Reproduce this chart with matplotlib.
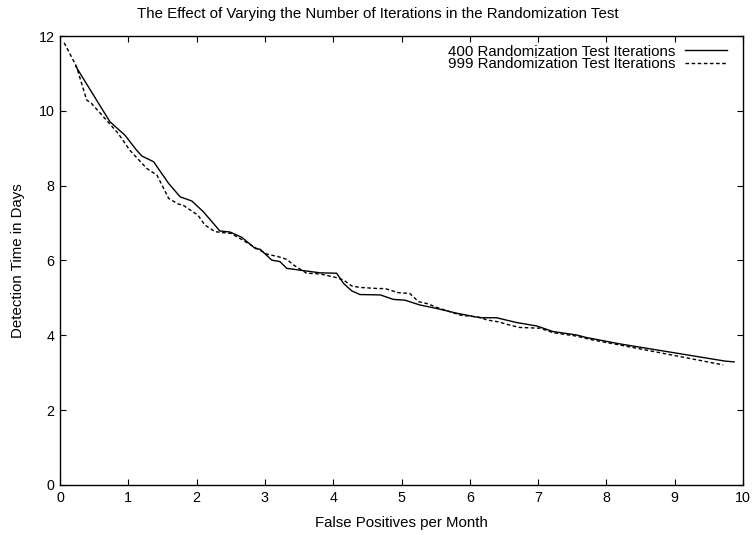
import numpy as np
import matplotlib as mpl
mpl.use('Agg')
import matplotlib.pyplot as plt

# curves (false positives per month -> detection time in days)
fp400 = [0.23, 0.73, 0.95, 1.12, 1.20, 1.37, 1.59, 1.76, 1.93, 2.10, 2.34, 2.49, 2.66, 2.86,
         2.93, 3.10, 3.22, 3.32, 3.56, 3.81, 4.05, 4.15, 4.27, 4.39, 4.69, 4.88, 5.05, 5.27,
         5.51, 5.81, 6.15, 6.39, 6.69, 6.98, 7.22, 7.56, 7.71, 8.20, 9.74, 9.87]
dt400 = [11.19, 9.71, 9.35, 8.95, 8.79, 8.64, 8.06, 7.70, 7.59, 7.30, 6.79, 6.76, 6.62, 6.32,
         6.30, 6.01, 5.97, 5.79, 5.73, 5.67, 5.66, 5.39, 5.19, 5.09, 5.08, 4.96, 4.94, 4.81,
         4.72, 4.59, 4.47, 4.47, 4.34, 4.25, 4.10, 4.01, 3.94, 3.77, 3.31, 3.29]

fp999 = [0.06, 0.24, 0.39, 0.46, 0.68, 0.85, 1.02, 1.27, 1.42, 1.59, 1.73, 1.80, 2.02, 2.12,
         2.27, 2.51, 2.66, 2.88, 3.03, 3.20, 3.32, 3.42, 3.61, 3.81, 4.03, 4.15, 4.27, 4.39,
         4.66, 4.76, 4.95, 5.12, 5.25, 5.39, 5.51, 5.86, 6.15, 6.25, 6.42, 6.59, 6.73, 7.03,
         7.22, 7.56, 7.76, 8.20, 9.71]
dt999 = [11.82, 11.19, 10.29, 10.20, 9.75, 9.40, 8.95, 8.46, 8.28, 7.66, 7.51, 7.48, 7.21, 6.95,
         6.77, 6.72, 6.56, 6.32, 6.17, 6.10, 6.03, 5.88, 5.66, 5.64, 5.55, 5.48, 5.32, 5.28,
         5.25, 5.25, 5.14, 5.12, 4.90, 4.84, 4.75, 4.54, 4.48, 4.41, 4.36, 4.27, 4.21, 4.19,
         4.07, 3.98, 3.89, 3.74, 3.21]

xticks = list(range(0, 11))
yticks = list(range(0, 13, 2))

plt.rcParams['font.family'] = ['Liberation Sans', 'DejaVu Sans']
plt.rcParams['font.size'] = 10.5


def main():
    fig = plt.figure(figsize=(7.56, 5.35), dpi=100)
    axs = fig.add_axes([0.0794, 0.0935, 0.9034, 0.8392])

    axs.plot(fp400, dt400, '-', color='black', lw=1.0, label='400 Randomization Test Iterations')
    ln, = axs.plot(fp999, dt999, '--', color='black', lw=1.0, label='999 Randomization Test Iterations')
    ln.set_dashes((2.6, 1.8))

    axs.set_xlim(0, 10)
    axs.set_ylim(0, 12)
    axs.set_xticks(xticks)
    axs.set_yticks(yticks)
    axs.tick_params(direction='in', length=4.5, width=0.8, top=True, right=True, pad=4,
                    labelsize=10.3)
    for sp in axs.spines.values():
        sp.set_linewidth(1.0)

    # gnuplot puts the title in the middle of the whole canvas
    fig.text(0.5, 1 - 14.0/535, 'The Effect of Varying the Number of Iterations in the Randomization Test',
             ha='center', va='center', fontsize=10.8)
    axs.set_xlabel('False Positives per Month', labelpad=8, fontsize=10.8)
    axs.set_ylabel('Detection Time in Days', labelpad=10, fontsize=10.8)

    axs.legend(loc='upper right', bbox_to_anchor=(0.9766, 0.981), frameon=False, markerfirst=False,
               handlelength=2.8, handletextpad=0.65, labelspacing=-0.1, borderaxespad=0,
               borderpad=0, fontsize=10.8)

    plt.savefig('out.png', dpi=100)


if __name__ == '__main__':
    main()
